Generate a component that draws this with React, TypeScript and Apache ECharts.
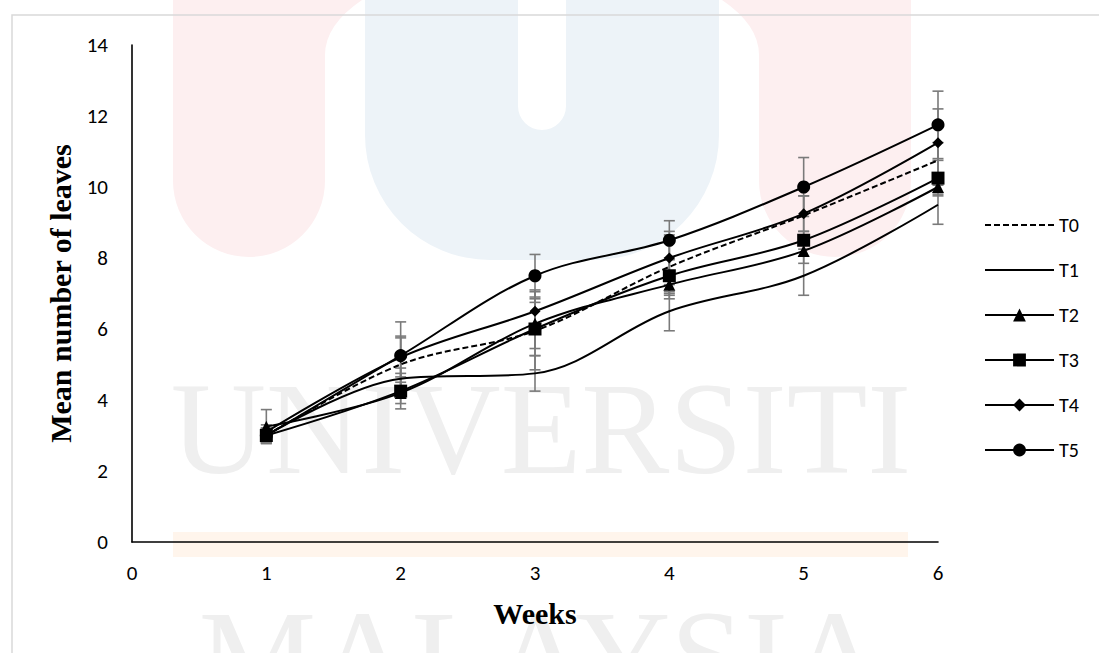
import React, { useEffect, useRef } from "react";
import * as echarts from "echarts";

// Weeks after planting and mean leaf counts per treatment
const weeks = [1, 2, 3, 4, 5, 6];
const treatments = ["T0", "T1", "T2", "T3", "T4", "T5"];

const t0 = [3.0, 5.0, 5.95, 7.75, 9.2, 10.75];
const t1 = [3.0, 4.6, 4.75, 6.5, 7.5, 9.5];
const t2 = [3.25, 4.2, 6.15, 7.25, 8.2, 10.0];
const t3 = [3.0, 4.25, 6.0, 7.5, 8.5, 10.25];
const t4 = [3.1, 5.2, 6.5, 8.0, 9.25, 11.25];
const t5 = [3.0, 5.25, 7.5, 8.5, 10.0, 11.75];

// Standard error of each mean
const t0Err = [0.2, 0.8, 1.1, 0.9, 0.55, 0.5];
const t1Err = [0.2, 0.3, 0.5, 0.55, 0.55, 0.55];
const t2Err = [0.48, 0.3, 0.7, 0.3, 0.35, 0.2];
const t3Err = [0.2, 0.5, 0.75, 0.5, 0.25, 0.5];
const t4Err = [0.2, 0.55, 0.6, 0.75, 0.5, 0.95];
const t5Err = [0.2, 0.95, 0.6, 0.55, 0.83, 0.95];

const yTicks = [0, 2, 4, 6, 8, 10, 12, 14];
const xTicks = [0, 1, 2, 3, 4, 5, 6];

const means = [t0, t1, t2, t3, t4, t5];
const errors = [t0Err, t1Err, t2Err, t3Err, t4Err, t5Err];
const symbols = ["none", "none", "triangle", "rect", "diamond", "circle"];
const symbolSizes = [0, 0, 12, 13, 11, 13];

// Faint university watermark behind the plot
echarts.graphic.registerShape(
  "wmLeft",
  echarts.graphic.extendPath(
    "M173 0 L362 0 Q325 25 325 55 L325 181 A76 76 0 0 1 173 181 Z",
    {}
  )
);
echarts.graphic.registerShape(
  "wmRight",
  echarts.graphic.extendPath(
    "M911 0 L722 0 Q759 25 759 55 L759 181 A76 76 0 0 0 911 181 Z",
    {}
  )
);
echarts.graphic.registerShape(
  "wmU",
  echarts.graphic.extendPath(
    "M365 0 L518 0 L518 106 A24 24 0 0 0 566 106 L566 0 L719 0 L719 135 A125 125 0 0 1 594 260 L490 260 A125 125 0 0 1 365 135 Z",
    {}
  )
);

const tickFont = "Carlito, Lato, 'Open Sans', sans-serif";
const titleFont = "'Liberation Serif', 'DejaVu Serif', serif";

export default function App() {
  const ref = useRef<HTMLDivElement>(null);

  useEffect(() => {
    if (!ref.current) return;
    const chart = echarts.init(ref.current, undefined, { renderer: "svg" });

    const lineSeries = treatments.map((name, i) => ({
      name,
      type: "line",
      smooth: 0.35,
      data: weeks.map((w, j) => [w, means[i][j]]),
      symbol: symbols[i],
      symbolSize: symbolSizes[i],
      showSymbol: symbols[i] !== "none",
      z: 3,
      lineStyle: {
        color: "#000",
        width: 2,
        type: i === 0 ? [6, 3] : "solid",
      },
      itemStyle: { color: "#000" },
    }));

    const errData: number[][] = [];
    treatments.forEach((_, i) => {
      weeks.forEach((w, j) => errData.push([w, means[i][j], errors[i][j]]));
    });

    const errStyle = { stroke: "#7a7a7a", lineWidth: 1.6 };
    const errorSeries = {
      name: "error",
      type: "custom",
      data: errData,
      encode: { x: 0, y: 1 },
      silent: true,
      z: 2,
      renderItem: (_params: any, api: any) => {
        const x = api.value(0);
        const y = api.value(1);
        const e = api.value(2);
        const top = api.coord([x, y + e]);
        const bot = api.coord([x, y - e]);
        const hw = 5.5;
        return {
          type: "group",
          children: [
            { type: "line", shape: { x1: top[0], y1: top[1], x2: bot[0], y2: bot[1] }, style: errStyle },
            { type: "line", shape: { x1: top[0] - hw, y1: top[1], x2: top[0] + hw, y2: top[1] }, style: errStyle },
            { type: "line", shape: { x1: bot[0] - hw, y1: bot[1], x2: bot[0] + hw, y2: bot[1] }, style: errStyle },
          ],
        };
      },
    };

    // Plain-line treatments get a marker-free legend key
    const legendData = treatments.map((name, i) =>
      symbols[i] === "none"
        ? { name, itemStyle: { opacity: 0, color: "rgba(0,0,0,0)", borderWidth: 0 } }
        : { name }
    );

    chart.setOption({
      animation: false,
      backgroundColor: "#ffffff",
      graphic: [
        { type: "wmLeft", z: -10, silent: true, style: { fill: "#fdeff0" } },
        { type: "wmRight", z: -10, silent: true, style: { fill: "#fdeff0" } },
        { type: "wmU", z: -10, silent: true, style: { fill: "#edf3f8" } },
        {
          type: "rect",
          z: -10,
          silent: true,
          shape: { x: 173, y: 532, width: 735, height: 25 },
          style: { fill: "#fff5ec" },
        },
        {
          type: "text",
          z: -9,
          silent: true,
          x: 541,
          y: 428,
          style: {
            text: "UNIVERSITI",
            fontSize: 132,
            lineHeight: 96,
            fontFamily: titleFont,
            fill: "#efefef",
            align: "center",
            verticalAlign: "middle",
          },
        },
        {
          type: "text",
          z: -9,
          silent: true,
          x: 541,
          y: 656,
          style: {
            text: "MALAYSIA",
            fontSize: 132,
            lineHeight: 90,
            fontFamily: titleFont,
            fill: "#efefef",
            align: "center",
            verticalAlign: "middle",
          },
        },
        {
          type: "rect",
          z: -8,
          silent: true,
          shape: { x: 12, y: 15, width: 1200, height: 800 },
          style: { fill: "none", stroke: "#d9d9d9", lineWidth: 1.5 },
        },
      ],
      grid: { left: 132, right: 161, top: 45, bottom: 111, containLabel: false },
      legend: {
        data: legendData,
        orient: "vertical",
        left: 979,
        top: 210,
        itemWidth: 69,
        itemHeight: 16,
        itemGap: 25,
        textStyle: { fontFamily: tickFont, fontSize: 20, color: "#000" },
      },
      xAxis: {
        type: "value",
        min: xTicks[0],
        max: xTicks[xTicks.length - 1],
        interval: 1,
        name: "Weeks",
        nameLocation: "middle",
        nameGap: 56,
        nameTextStyle: { fontFamily: titleFont, fontWeight: "bold", fontSize: 30, color: "#000" },
        axisLine: { show: true, lineStyle: { color: "#000", width: 1.6 } },
        axisTick: { show: false },
        splitLine: { show: false },
        axisLabel: { fontFamily: tickFont, fontSize: 21, color: "#000", margin: 20 },
      },
      yAxis: {
        type: "value",
        min: yTicks[0],
        max: yTicks[yTicks.length - 1],
        interval: 2,
        name: "Mean number of leaves",
        nameLocation: "middle",
        nameGap: 48,
        nameTextStyle: { fontFamily: titleFont, fontWeight: "bold", fontSize: 30, color: "#000" },
        axisLine: { show: true, lineStyle: { color: "#000", width: 1.6 } },
        axisTick: { show: false },
        splitLine: { show: false },
        axisLabel: { fontFamily: tickFont, fontSize: 21, color: "#000", margin: 24 },
      },
      series: [errorSeries, ...lineSeries],
    });

    return () => chart.dispose();
  }, []);

  return (
    <div
      ref={ref}
      style={{ position: "fixed", left: 0, top: 0, width: 1099, height: 653 }}
    />
  );
}
